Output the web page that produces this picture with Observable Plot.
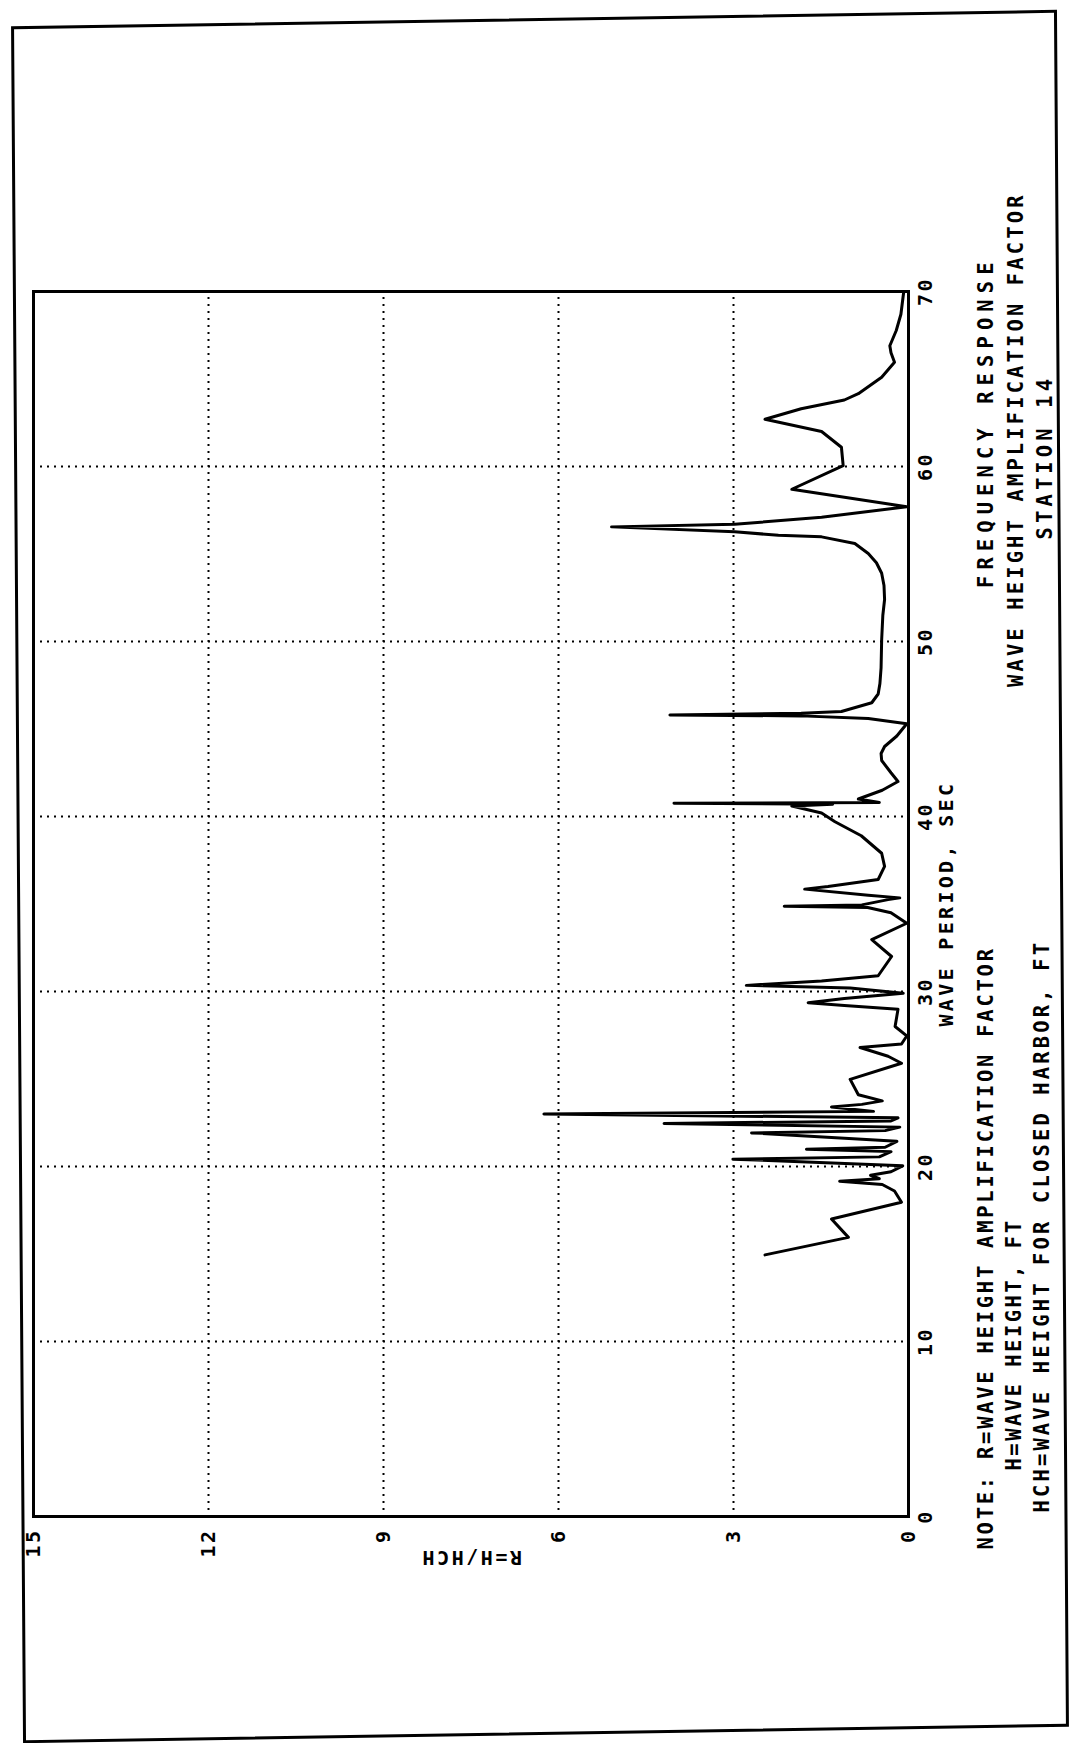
<!DOCTYPE html>
<html><head><meta charset="utf-8">
<script src="https://cdn.jsdelivr.net/npm/d3@7"></script>
<script src="https://cdn.jsdelivr.net/npm/@observablehq/plot@0.6"></script>
<style>
html,body{margin:0;padding:0;background:#fff;overflow:hidden;}
#page{position:relative;width:1072px;height:1743px;overflow:hidden;background:#fff;}
#border{position:absolute;left:17px;top:18px;width:1046px;height:1717px;box-sizing:border-box;border:3px solid #000;transform:rotate(-0.4deg) skewY(-0.5deg);}
#chart{position:absolute;left:0;top:0;width:1743px;height:1072px;transform-origin:0 0;transform:translateY(1743px) rotate(-90deg);}
#chart svg{max-width:none !important;display:block;}
</style></head><body><div id="page"><div id="border"></div><div id="chart"></div></div>
<script>
const periodTicks = [0, 10, 20, 30, 40, 50, 60, 70];
const ratioTicks = [0, 3, 6, 9, 12, 15];
const xLabel = "WAVE PERIOD, SEC";
const yLabel = "R=H/HCH";
const titleLines = ["FREQUENCY RESPONSE", "WAVE HEIGHT AMPLIFICATION FACTOR", "STATION 14"];
const noteLines = ["NOTE: R=WAVE HEIGHT AMPLIFICATION FACTOR", "H=WAVE HEIGHT, FT", "HCH=WAVE HEIGHT FOR CLOSED HARBOR, FT"];

// wave period (sec) and amplification factor R
const period = [14.95,15.95,17.0,17.96,18.6,18.97,19.16,19.3,19.5,19.7,20.04,20.42,20.55,20.85,20.99,21.1,21.44,21.92,22.05,22.25,22.46,22.6,22.78,23.0,23.15,23.4,23.55,23.75,24.1,24.98,25.9,26.3,26.8,27.0,27.46,28.0,28.98,29.2,29.36,29.6,29.9,30.2,30.35,30.6,30.9,32.0,32.97,33.9,34.5,34.8,34.87,34.95,35.25,35.35,35.5,35.85,36.0,36.4,37.15,37.9,38.9,39.7,40.2,40.6,40.7,40.76,40.8,41.0,41.5,42.0,42.5,43.2,43.6,44.0,44.6,45.3,45.6,45.75,45.8,45.9,46.0,46.5,47.0,47.6,48.5,50.1,51.5,52.4,53.2,53.9,54.5,55.03,55.6,55.98,56.07,56.27,56.55,56.7,57.1,57.7,58.7,60.05,61.1,62.0,62.7,63.3,63.8,64.16,65.1,65.96,66.5,66.9,67.77,68.7,69.77,70.0];
const ratio = [2.46,1.03,1.32,0.12,0.24,0.45,1.18,0.5,0.65,0.3,0.1,3.01,0.5,0.3,1.75,0.4,0.2,2.69,0.4,0.15,4.19,0.3,0.18,6.25,0.6,1.32,0.8,0.45,0.86,1.0,0.12,0.35,0.83,0.12,0.03,0.23,0.18,1.1,1.72,1.1,0.09,1.0,2.78,1.49,0.52,0.29,0.63,0.03,0.3,0.7,2.13,0.8,0.35,0.15,0.69,1.78,1.38,0.52,0.41,0.46,0.81,1.26,1.49,2.0,1.3,4.02,0.5,0.86,0.45,0.18,0.3,0.46,0.47,0.41,0.2,0.03,0.69,1.84,4.09,1.84,1.15,0.63,0.52,0.49,0.47,0.46,0.44,0.41,0.42,0.46,0.55,0.69,0.92,1.49,2.23,2.98,5.09,2.98,1.49,0.03,2.0,1.12,1.15,1.49,2.46,1.84,1.1,0.86,0.46,0.24,0.3,0.32,0.21,0.13,0.09,0.08];

const data = period.map((p, i) => ({period: p, ratio: ratio[i]}));
const font = "DejaVu Sans Mono";

const textLine = (s, o) => Plot.text([s], {text: d => d, lineAnchor: "middle", fontSize: 20.5, fontWeight: "bold", fill: "black", ...o});

const chart = Plot.plot({
  width: 1743,
  height: 1072,
  marginLeft: 226,
  marginRight: 292,
  marginTop: 33,
  marginBottom: 164,
  x: {domain: [0, 70]},
  y: {domain: [0, 15]},
  style: {fontFamily: font, fontWeight: "bold", fontSize: "20px", letterSpacing: "2.5px", background: "transparent", color: "black", maxWidth: "none"},
  marks: [
    Plot.gridX(periodTicks.filter(d => d > 0 && d < 70), {stroke: "black", strokeOpacity: 1, strokeWidth: 2, strokeDasharray: "2,5"}),
    Plot.gridY(ratioTicks.filter(d => d > 0 && d < 15), {stroke: "black", strokeOpacity: 1, strokeWidth: 2, strokeDasharray: "2,5"}),
    Plot.frame({stroke: "black", strokeWidth: 3}),
    Plot.axisX({ticks: periodTicks, tickSize: 0, tickPadding: 9, fontSize: 20, label: xLabel, labelAnchor: "center", labelOffset: 44, labelArrow: "none"}),
    Plot.axisY({ticks: ratioTicks, tickSize: 0, tickPadding: 12, fontSize: 20, label: yLabel, labelAnchor: "center", labelOffset: 49, labelArrow: "none"}),
    Plot.line(data, {x: "period", y: "ratio", stroke: "black", strokeWidth: 3, strokeLinejoin: "round"}),
    textLine(titleLines[0], {frameAnchor: "bottom", textAnchor: "middle", dx: 480, dy: 78}),
    textLine(titleLines[1], {frameAnchor: "bottom", textAnchor: "middle", dx: 464, dy: 108}),
    textLine(titleLines[2], {frameAnchor: "bottom", textAnchor: "middle", dx: 446, dy: 137}),
    textLine(noteLines[0], {frameAnchor: "bottom-left", textAnchor: "start", dx: -33, dy: 78}),
    textLine(noteLines[1], {frameAnchor: "bottom-left", textAnchor: "start", dx: 46, dy: 106}),
    textLine(noteLines[2], {frameAnchor: "bottom-left", textAnchor: "start", dx: 4, dy: 134})
  ]
});
chart.style.maxWidth = "none";
document.getElementById("chart").appendChild(chart);

const lengths = new Map([
  [titleLines[0], 328], [titleLines[1], 494], [titleLines[2], 163],
  [noteLines[0], 603], [noteLines[1], 252], [noteLines[2], 572],
  [xLabel, 245], [yLabel, 102]
]);
chart.querySelectorAll("text").forEach(t => {
  const len = lengths.get(t.textContent);
  if (len) { t.setAttribute("textLength", len); t.setAttribute("lengthAdjust", "spacing"); }
});
</script></body></html>
